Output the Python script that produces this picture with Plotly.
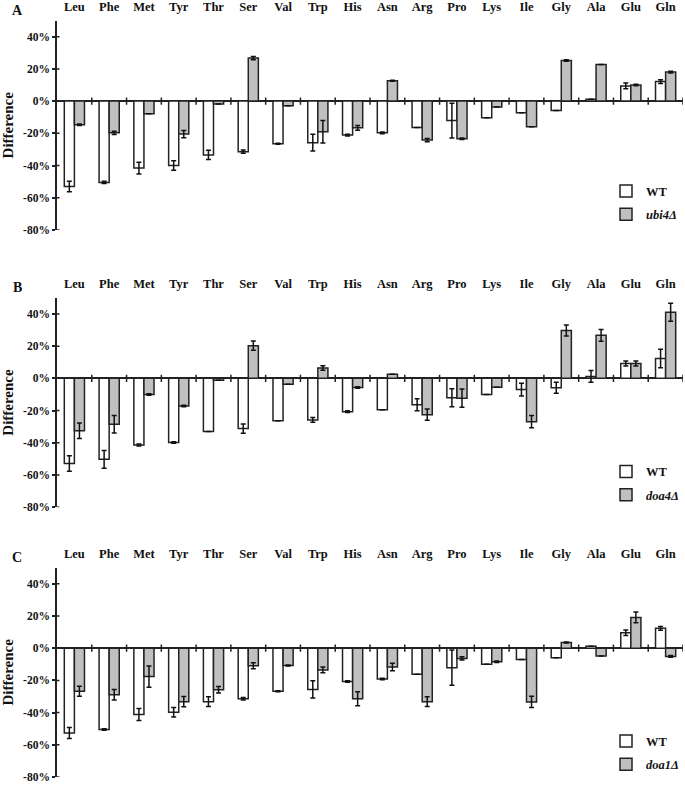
import plotly.graph_objects as go

categories = ["Leu", "Phe", "Met", "Tyr", "Thr", "Ser", "Val", "Trp", "His",
              "Asn", "Arg", "Pro", "Lys", "Ile", "Gly", "Ala", "Glu", "Gln"]

# Panel A: WT vs ubi4Δ (percent)
wt_a = [-53, -50.5, -41.6, -40, -33.4, -31.4, -26.5, -25.8, -21.1, -19.7, -16.4, -12.1, -10.3, -7.2, -5.9, 1.2, 9.4, 12.1]
wt_a_err = [3.3, 0.7, 3.7, 3, 2.9, 1, 0.3, 5.2, 0.5, 0.5, 0, 10.8, 0, 0, 0, 0, 1.8, 1.2]
mut_a = [-14.7, -19.7, -7.8, -20.5, -1.8, 26.7, -2.9, -19, -16.6, 12.7, -24.2, -23.4, -3.7, -16, 25.2, 22.8, 10, 18]
mut_a_err = [0.5, 1, 0, 2.3, 0, 1, 0, 7, 1.5, 0.3, 1, 0.5, 0, 0, 0.5, 0, 0.5, 0.6]

# Panel B: WT vs doa4Δ
wt_b = [-52.9, -50.3, -41.4, -39.8, -33, -31.2, -26.3, -25.8, -20.7, -19.5, -16.4, -12.1, -10, -7, -5.9, 1.2, 9.2, 12.3]
wt_b_err = [4.8, 5.5, 0.6, 0.5, 0, 2.9, 0, 1.5, 0.5, 0, 3.8, 5.6, 0, 3.9, 3.4, 3.6, 1.6, 5.7]
mut_b = [-32.6, -28.5, -10, -17.2, -1.2, 20.3, -3.7, 6.4, -5.7, 2.5, -22.6, -12.3, -5.5, -26.9, 29.7, 26.7, 9.2, 41]
mut_b_err = [4.8, 5.5, 0.5, 0.5, 0, 2.9, 0, 1.4, 0.5, 0, 3.5, 5.7, 0, 3.8, 3.4, 3.6, 1.6, 5.6]

# Panel C: WT vs doa1Δ
wt_c = [-52.7, -50.5, -41.2, -39.8, -33.2, -31.4, -26.7, -25.6, -20.7, -19.1, -16.2, -12.1, -10, -7, -5.9, 1.2, 9.6, 12.3]
wt_c_err = [3.4, 0.5, 3.7, 2.9, 3, 0.8, 0.3, 5.3, 0.5, 0.5, 0, 10.9, 0, 0, 0, 0, 1.7, 1.2]
mut_c = [-26.7, -28.9, -17.6, -33.2, -25.8, -10.9, -10.7, -13.5, -31.4, -11.7, -33.2, -6.4, -8.4, -33.4, 3.5, -4.9, 19.1, -5.1]
mut_c_err = [3.1, 3.2, 6.6, 3.2, 2, 1.8, 0.3, 1.8, 4.3, 2.3, 3, 1, 0.5, 3.5, 0.3, 0, 3.3, 0.5]

panel_letters = ["A", "B", "C"]
mutant_names = ["ubi4Δ", "doa4Δ", "doa1Δ"]
y_tick_vals = [-80, -60, -40, -20, 0, 20, 40]
y_tick_text = ["-80%", "-60%", "-40%", "-20%", "0%", "20%", "40%"]

panels = [(wt_a, wt_a_err, mut_a, mut_a_err),
          (wt_b, wt_b_err, mut_b, mut_b_err),
          (wt_c, wt_c_err, mut_c, mut_c_err)]

W, H = 685, 788
FONT = "Liberation Serif"
LINE = "#222222"
# pixel geometry (top, bottom) of each panel's plot area
panel_px = [(19.75, 231), (299.5, 510.7), (571.7, 783)]
x_px = (57, 683)
legend_top_px = [177, 460, 732]


def px_x(v):
    return v / W


def px_y(v):
    return 1 - v / H


fig = go.Figure()
layout_updates = {}
shapes = []
annotations = []

for p, (wt, wte, mu, mue) in enumerate(panels):
    n = "" if p == 0 else str(p + 1)
    xa, ya = "x" + n, "y" + n
    lg = "legend" if p == 0 else "legend" + str(p + 1)
    fig.add_trace(go.Bar(
        x=categories, y=wt, name="<b>WT</b>", xaxis=xa, yaxis=ya, legend=lg,
        legendgroup="wt" + n, offsetgroup="wt",
        marker=dict(color="white", line=dict(color=LINE, width=1.5)),
        error_y=dict(type="data", array=wte, color="#111111", thickness=1.5, width=2.5),
    ))
    fig.add_trace(go.Bar(
        x=categories, y=mu, name="<b><i>" + mutant_names[p] + "</i></b>", xaxis=xa, yaxis=ya, legend=lg,
        legendgroup="mut" + n, offsetgroup="mut",
        marker=dict(color="#c0c0c0", line=dict(color=LINE, width=1.5)),
        error_y=dict(type="data", array=mue, color="#111111", thickness=1.5, width=2.5),
    ))
    top, bot = panel_px[p]
    layout_updates["xaxis" + n] = dict(
        domain=[px_x(x_px[0]), px_x(x_px[1])], anchor=ya, side="top",
        type="category", range=[-0.5, len(categories) - 0.5],
        showline=False, showgrid=False, zeroline=False, ticks="",
        tickfont=dict(family=FONT, size=12.5, color="#111111", weight="bold"),
        ticklabelstandoff=6,
    )
    layout_updates["yaxis" + n] = dict(
        domain=[px_y(bot), px_y(top)], anchor=xa, range=[-80, 50],
        tickvals=y_tick_vals, ticktext=y_tick_text,
        showline=True, linecolor=LINE, linewidth=1.5,
        ticks="outside", ticklen=3, tickwidth=1.5, tickcolor=LINE,
        showgrid=False, zeroline=True, zerolinecolor=LINE, zerolinewidth=1.5,
        tickfont=dict(family=FONT, size=11.5, color="#111111", weight="bold"),
        title=dict(text="Difference", standoff=8,
                   font=dict(family=FONT, size=15, color="#111111", weight="bold")),
    )
    # crossing ticks on zero line at category boundaries
    for i in range(len(categories)):
        shapes.append(dict(type="line", xref=xa, yref=ya, x0=i + 0.5, x1=i + 0.5,
                           y0=-2.3, y1=2.3, line=dict(color=LINE, width=1.5)))
    # inner half of the crossing y-axis ticks
    for v in y_tick_vals:
        shapes.append(dict(type="line", xref="paper", yref=ya,
                           x0=px_x(x_px[0]), x1=px_x(x_px[0] + 2.5), y0=v, y1=v,
                           line=dict(color=LINE, width=1.5)))
    annotations.append(dict(text="<b>" + panel_letters[p] + "</b>", xref="paper", yref="paper",
                            x=px_x(17), y=px_y(top - 10), xanchor="center", yanchor="middle",
                            showarrow=False,
                            font=dict(family=FONT, size=14, color="#111111")))
    layout_updates[lg] = dict(
        x=px_x(606), y=px_y(legend_top_px[p]), xanchor="left", yanchor="top",
        bgcolor="rgba(0,0,0,0)", tracegroupgap=4, itemwidth=30,
        font=dict(family=FONT, size=12.5, color="#111111"),
    )

fig.update_layout(
    width=W, height=H, margin=dict(l=0, r=0, t=0, b=0),
    paper_bgcolor="white", plot_bgcolor="white",
    barmode="group", bargap=0.42, bargroupgap=0,
    showlegend=True, shapes=shapes, annotations=annotations,
    font=dict(family=FONT, color="#111111"),
    **layout_updates,
)

fig.write_html("out.html", config={"displayModeBar": False},
               post_script="document.body.style.margin='0';document.body.style.overflow='hidden';")
